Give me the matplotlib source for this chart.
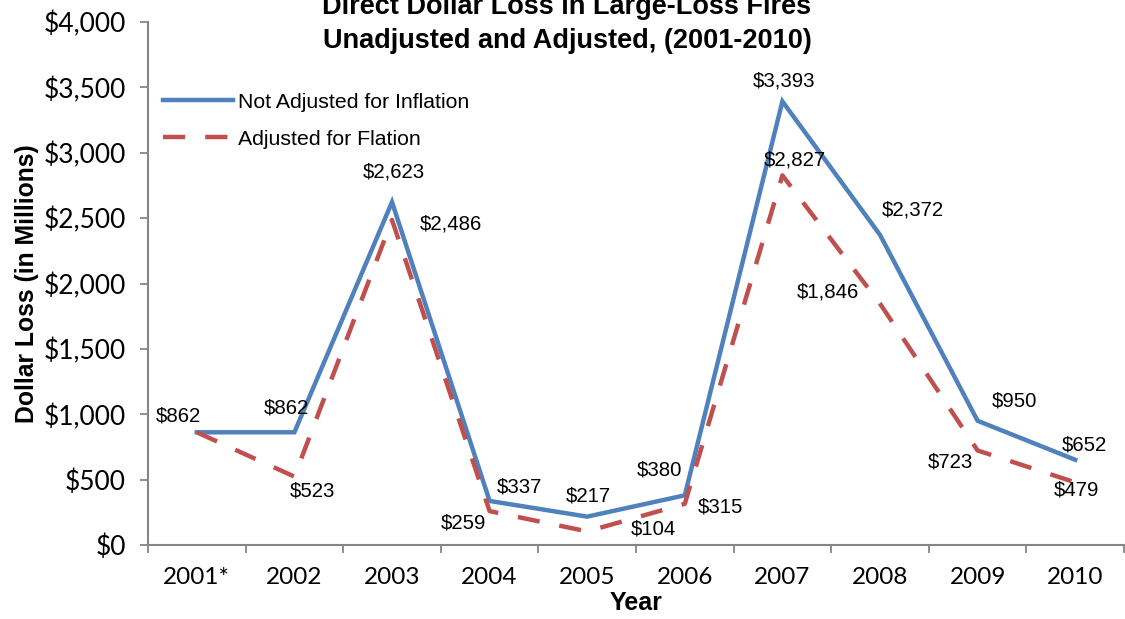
import matplotlib.pyplot as plt
import numpy as np

years = ["2001*", "2002", "2003", "2004", "2005", "2006", "2007", "2008", "2009", "2010"]
not_adjusted = [862, 862, 2623, 337, 217, 380, 3393, 2372, 950, 652]
adjusted = [862, 523, 2486, 259, 104, 315, 2827, 1846, 723, 479]

# label offsets in pixels (dx, dy) from each point
off_blue = [(-18, 16), (-8, 24), (2, 30), (30, 14), (1, 21), (-25, 25), (2, 20), (33, 25), (37, 20), (9, 15)]
off_red = [None, (18, -14), (59, -4), (-26, -12), (66, 2), (36, -3), (12, 15), (-52, 12), (-27, -12), (1, -8)]

blue = "#4F81BD"
red = "#C0504D"
axis_gray = "#868686"

plt.rcParams["font.family"] = ["Liberation Sans", "DejaVu Sans"]

fig = plt.figure(figsize=(11.25, 6.19), dpi=100)
ax = fig.add_axes([148 / 1125, 1 - 545 / 619, 976 / 1125, 523 / 619])

x = np.arange(len(years))
ax.plot(x, not_adjusted, color=blue, lw=3.2, label="Not Adjusted for Inflation",
        solid_joinstyle="miter")
ax.plot(x, adjusted, color=red, lw=3.2, dashes=(5, 4.5), label="Adjusted for Flation")

for i, v in enumerate(not_adjusted):
    dx, dy = off_blue[i]
    ax.annotate(f"${v:,}", (x[i], v), xytext=(dx, dy), textcoords="offset pixels",
                ha="center", va="center", fontsize=14.7)
for i, v in enumerate(adjusted):
    if off_red[i] is None:
        continue
    dx, dy = off_red[i]
    ax.annotate(f"${v:,}", (x[i], v), xytext=(dx, dy), textcoords="offset pixels",
                ha="center", va="center", fontsize=14.7)

ax.set_xlim(-0.5, len(years) - 0.5)
ax.set_ylim(0, 4000)
ax.set_yticks(np.arange(0, 4001, 500))
ax.set_yticklabels([f"${v:,}" for v in range(0, 4001, 500)], fontfamily="Lato", fontsize=19)
ax.set_xticks(x)
ax.set_xticklabels(years, fontfamily="Lato", fontsize=17.5)
ax.set_xticks(np.arange(-0.5, len(years)), minor=True)
ax.tick_params(axis="x", which="major", length=0, pad=16)
ax.tick_params(axis="x", which="minor", length=6, width=1.3, color=axis_gray, direction="out")
ax.tick_params(axis="y", length=6, width=1.3, color=axis_gray, pad=10)

for s in ["top", "right"]:
    ax.spines[s].set_visible(False)
for s in ["left", "bottom"]:
    ax.spines[s].set_color(axis_gray)
    ax.spines[s].set_linewidth(1.5)

ax.set_ylabel("Dollar Loss (in Millions)", fontsize=17.8, fontweight="bold", labelpad=3)
ax.set_xlabel("Year", fontsize=18, fontweight="bold", labelpad=2)

fig.suptitle("Direct Dollar Loss in Large-Loss Fires\nUnadjusted and Adjusted, (2001-2010)",
             x=567 / 1125, y=1 + 6 / 619, va="top", fontsize=19.5, fontweight="bold",
             linespacing=1.4)

ax.legend(loc="upper left", bbox_to_anchor=(0.015, 0.865), frameon=False, fontsize=15.3,
          handlelength=3.3, handletextpad=0.25, labelspacing=0.85, borderaxespad=0, borderpad=0)

fig.savefig("out.png", dpi=100)
